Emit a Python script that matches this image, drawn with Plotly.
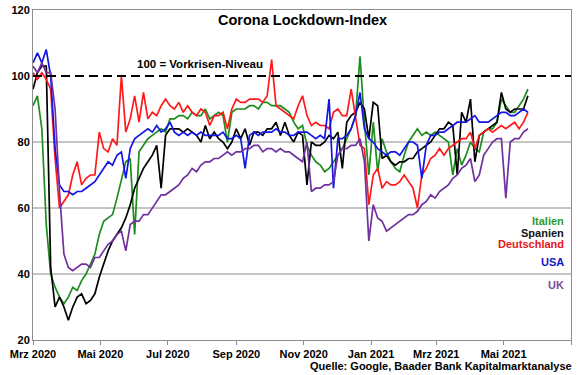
import pandas as pd
import plotly.graph_objects as go

# ---- data (values every 4 days from 2020-03-01) ----
START_DATE = "2020-03-01"
STEP = "4D"

italien = [91, 94, 84, 55, 40, 36, 33, 31, 33, 36, 35, 38, 40, 43, 46, 52, 56, 57, 58, 63,
           69, 74, 75, 52, 77, 79, 81, 82, 83, 84, 83,
           87, 87, 88, 88, 87, 89, 88, 88, 90, 87, 88, 89, 88, 80, 89, 90, 90, 90, 91, 91,
           90, 92, 92, 91, 91, 91, 90, 89, 86, 84,
           85, 79, 76, 74, 73, 71, 72, 74, 76, 78, 81, 84, 88, 106, 86, 70, 86, 71, 81, 77,
           74, 72, 71, 76, 80, 82, 84, 82, 83, 82,
           83, 82, 81, 80, 70, 78, 73, 76, 80, 78, 77, 83, 84, 84, 86, 93, 91, 89, 89, 91,
           93, 96]

spanien = [96, 101, 103, 103, 42, 30, 33, 30, 26, 30, 33, 34, 31, 32, 34, 39, 43, 47, 50, 52,
           54, 57, 61, 66, 69, 72, 74, 76, 79, 66, 82,
           84, 84, 84, 83, 84, 83, 82, 80, 85, 81, 83, 81, 80, 78, 80, 84, 81, 84, 79, 83,
           83, 82, 84, 84, 86, 82, 86, 82, 80, 83,
           82, 67, 80, 79, 79, 80, 82, 81, 83, 72, 86, 88, 89, 92, 90, 81, 92, 91, 75, 76,
           74, 73, 74, 74, 75, 75, 77, 78, 79, 80,
           82, 84, 84, 86, 85, 70, 89, 86, 93, 74, 82, 83, 84, 85, 86, 95, 90, 89, 90, 90,
           90, 94]

deutschland = [101, 99, 101, 99, 96, 75, 60, 62, 64, 70, 74, 67, 69, 70, 70, 83, 78, 77, 81, 79,
               100, 83, 87, 94, 86, 95, 87, 89, 88, 91, 93,
               91, 90, 92, 89, 91, 89, 88, 90, 89, 85, 88, 88, 89, 84, 90, 93, 92, 92, 93, 93,
               93, 92, 94, 105, 91, 90, 89, 88, 87, 91,
               94, 88, 85, 86, 85, 85, 84, 89, 90, 88, 88, 96, 88, 79, 78, 61, 70, 72, 66, 68,
               67, 67, 68, 70, 68, 66, 60, 70, 72, 75,
               76, 78, 76, 78, 79, 80, 81, 81, 83, 78, 82, 83, 84, 83, 84, 85, 84, 85, 86, 84,
               86, 89]

usa = [104, 107, 104, 108, 100, 78, 67, 65, 65, 64, 65, 65, 66, 67, 68, 70, 72, 74, 73, 76,
       77, 69, 78, 81, 82, 83, 84, 83, 85, 83, 84,
       86, 83, 82, 83, 82, 83, 82, 83, 82, 82, 82, 82, 83, 81, 81, 82, 81, 72, 82, 83,
       82, 83, 83, 83, 84, 83, 83, 82, 82, 83,
       83, 83, 82, 81, 82, 81, 93, 66, 81, 81, 82, 84, 88, 95, 84, 81, 80, 78, 77, 76,
       77, 77, 76, 78, 80, 80, 79, 69, 79, 82,
       82, 83, 83, 84, 85, 86, 86, 86, 87, 88, 86, 86, 86, 87, 88, 89, 89, 88, 88, 89,
       90, 89]

uk = [103, 101, 104, 101, 101, 90, 65, 46, 42, 41, 42, 43, 43, 42, 45, 45, 47, 49, 50, 52,
      53, 47, 55, 56, 56, 58, 58, 60, 62, 64, 64,
      65, 66, 67, 69, 70, 72, 71, 73, 74, 74, 75, 75, 76, 77, 76, 77, 77, 78, 78, 79,
      79, 77, 78, 78, 77, 78, 77, 77, 76, 75,
      74, 80, 65, 66, 66, 67, 67, 68, 76, 78, 78, 79, 79, 81, 74, 50, 61, 57, 56, 53,
      54, 55, 56, 57, 58, 58, 59, 61, 62, 64,
      63, 65, 66, 67, 69, 70, 72, 73, 75, 68, 70, 76, 78, 80, 81, 81, 63, 80, 81, 81,
      83, 84]

SERIES_NAMES = ["Italien", "Spanien", "Deutschland", "USA", "UK"]
SERIES_VALUES = [italien, spanien, deutschland, usa, uk]
LINE_COLORS = ["#1e8c1e", "#000000", "#ff1a1a", "#1414e6", "#7030a0"]
LABEL_COLORS = ["#2e9b2e", "#111111", "#e8141c", "#1414cc", "#7a4aa0"]

TICK_DATES = ["2020-03-01", "2020-05-01", "2020-07-01", "2020-09-01", "2020-11-01",
              "2021-01-01", "2021-03-01", "2021-05-01", "2021-07-01"]
TICK_LABELS = ["Mrz 2020", "Mai 2020", "Jul 2020", "Sep 2020", "Nov 2020",
               "Jan 2021", "Mrz 2021", "Mai 2021", ""]
Y_TICKS = [20, 40, 60, 80, 100, 120]
GRID_LEVELS = [40, 60, 80]
REF_LEVEL = 100

TITLE = "Corona Lockdown-Index"
REF_TEXT = "100 = Vorkrisen-Niveau"
SOURCE = "Quelle: Google, Baader Bank Kapitalmarktanalyse"

FONT = "Liberation Sans, Arial, sans-serif"
GREY = "#8c8c8c"

dates = pd.date_range(START_DATE, periods=len(italien), freq=STEP)

fig = go.Figure()
for name, vals, col in zip(SERIES_NAMES, SERIES_VALUES, LINE_COLORS):
    fig.add_trace(go.Scatter(x=dates, y=vals, mode="lines", name=name,
                             line=dict(color=col, width=1.7), showlegend=False))

for g in GRID_LEVELS:
    fig.add_shape(type="line", xref="paper", x0=0, x1=1, yref="y", y0=g, y1=g,
                  line=dict(color=GREY, width=1), layer="below")
fig.add_shape(type="line", xref="paper", x0=0, x1=1, yref="y", y0=REF_LEVEL, y1=REF_LEVEL,
              line=dict(color="#000000", width=2, dash="9px,5px"), layer="above")

fig.add_annotation(text="<b>" + TITLE + "</b>", xref="paper", yref="paper", x=0.5, y=0.97,
                   xanchor="center", yanchor="middle", showarrow=False,
                   font=dict(family=FONT, size=14.5, color="#000000"))
fig.add_annotation(text="<b>" + REF_TEXT + "</b>", xref="x", yref="y", x="2020-07-30", y=103.6,
                   xanchor="center", yanchor="middle", showarrow=False,
                   font=dict(family=FONT, size=11.5, color="#000000"))

label_y = [220.5, 232.5, 244, 262, 285]  # pixel rows of labels
for name, col, py in zip(SERIES_NAMES, LABEL_COLORS, label_y):
    fig.add_annotation(text="<b>" + name + "</b>", xref="paper", yref="paper",
                       x=(566 - 33) / 538, y=(340 - py) / 330, xanchor="right", yanchor="middle",
                       showarrow=False, font=dict(family=FONT, size=11, color=col))

fig.add_annotation(text="<b>" + SOURCE + "</b>", xref="paper", yref="paper",
                   x=(574 - 33) / 538, y=(340 - 366) / 330, xanchor="right", yanchor="middle",
                   showarrow=False, font=dict(family=FONT, size=11, color="#000000"))

fig.update_layout(
    width=580, height=375, autosize=False,
    margin=dict(l=33, r=9, t=10, b=35, autoexpand=False),
    paper_bgcolor="#ffffff", plot_bgcolor="#ffffff",
    font=dict(family=FONT, size=11, color="#000000"),
    hovermode=False,
    xaxis=dict(range=["2020-03-01", "2021-07-01"], tickvals=TICK_DATES,
               ticktext=["<b>" + t + "</b>" if t else "" for t in TICK_LABELS],
               ticks="outside", ticklen=4, tickcolor=GREY, showgrid=False,
               showline=True, linecolor=GREY, linewidth=1, mirror=True,
               tickfont=dict(family=FONT, size=11, color="#000000"), zeroline=False),
    yaxis=dict(range=[20, 120], tickvals=Y_TICKS, ticktext=["<b>%d</b>" % v for v in Y_TICKS],
               ticks="", showgrid=False, showline=True, linecolor=GREY, linewidth=1,
               mirror=True, tickfont=dict(family=FONT, size=11, color="#000000"),
               zeroline=False),
)

fig.write_html("out.html", config={"displayModeBar": False},
               post_script="document.body.style.margin='0';")
